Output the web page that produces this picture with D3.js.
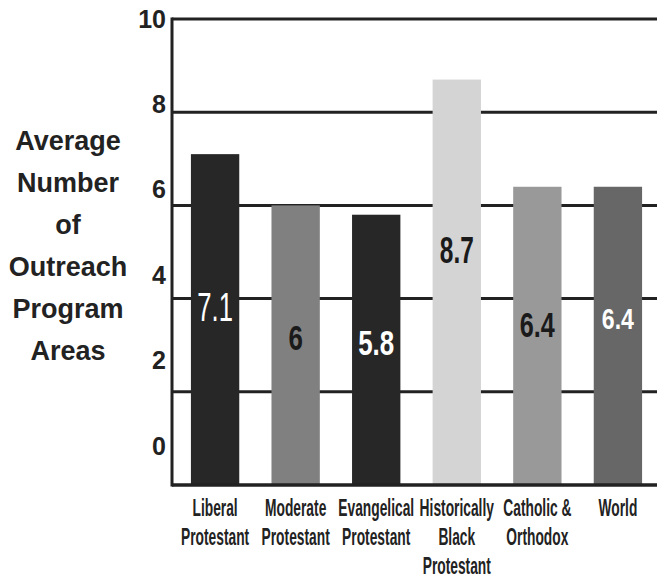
<!DOCTYPE html>
<html>
<head>
<meta charset="utf-8">
<script src="https://cdn.jsdelivr.net/npm/d3@7/dist/d3.min.js"></script>
<style>
  html, body { margin: 0; padding: 0; background: #fff; }
  svg { display: block; }
  text { font-family: "Liberation Sans", Arial, sans-serif; }
</style>
</head>
<body>
<svg id="chart" width="657" height="578"></svg>
<script>
// Outreach program areas by congregation family
const categories = [
  ["Liberal", "Protestant"],
  ["Moderate", "Protestant"],
  ["Evangelical", "Protestant"],
  ["Historically", "Black", "Protestant"],
  ["Catholic &", "Orthodox"],
  ["World"]
];
const values = [7.1, 6, 5.8, 8.7, 6.4, 6.4];
const yTicks = [0, 2, 4, 6, 8, 10];
const titleLines = ["Average", "Number", "of", "Outreach", "Program", "Areas"];

// Presentation settings
const barFill = ["#272727", "#808080", "#272727", "#d4d4d4", "#999999", "#676767"];
const labelFill = ["#ffffff", "#1a1a1a", "#ffffff", "#1a1a1a", "#1a1a1a", "#ffffff"];
const labelWeight = ["normal", "bold", "bold", "bold", "bold", "bold"];
const labelSize = [40, 36, 36, 36, 36, 30];
const labelSquash = [0.64, 0.72, 0.72, 0.68, 0.7, 0.77];
const labelLift = [0.54, 0.53, 0.53, 0.58, 0.54, 0.56];

const svg = d3.select("#chart");
const ink = "#222";

const keys = categories.map(c => c.join(" "));
const x = d3.scaleBand().domain(keys).range([174, 659]).paddingInner(0.4).paddingOuter(0.21);
const y = d3.scaleLinear().domain([0, 10]).range([485, 19]);
// tick numbers sit on their own, slightly tighter ladder
const yLabel = d3.scaleLinear().domain([0, 10]).range([446, 19]);

const axisX = 172, rightEdge = 657;

// gridlines
svg.append("g").selectAll("line")
  .data(yTicks.filter(t => t > 0))
  .join("line")
  .attr("x1", axisX).attr("x2", rightEdge)
  .attr("y1", d => y(d)).attr("y2", d => y(d))
  .attr("stroke", ink).attr("stroke-width", 3);

// bars
svg.append("g").selectAll("rect")
  .data(values)
  .join("rect")
  .attr("x", (d, i) => x(keys[i]))
  .attr("width", x.bandwidth())
  .attr("y", d => y(d))
  .attr("height", d => y(0) - y(d))
  .attr("fill", (d, i) => barFill[i]);

// baseline and vertical axis
svg.append("line")
  .attr("x1", axisX).attr("x2", rightEdge)
  .attr("y1", y(0)).attr("y2", y(0))
  .attr("stroke", ink).attr("stroke-width", 3.5);
svg.append("line")
  .attr("x1", axisX).attr("x2", axisX)
  .attr("y1", y(10) - 1.5).attr("y2", y(0) + 1.5)
  .attr("stroke", ink).attr("stroke-width", 3);

// tick numbers
const axis = d3.axisLeft(yLabel).tickValues(yTicks).tickSize(0).tickPadding(0);
const axisG = svg.append("g").attr("transform", "translate(166,0)").call(axis);
axisG.select(".domain").remove();
axisG.selectAll("text")
  .attr("fill", ink)
  .style("font-size", "25px")
  .style("font-weight", "bold")
  .style("font-family", "'Liberation Sans', Arial, sans-serif");

// value labels inside bars
svg.append("g").selectAll("text")
  .data(values)
  .join("text")
  .attr("transform", (d, i) => {
    const cx = x(keys[i]) + x.bandwidth() / 2;
    const cy = y(d * labelLift[i]) + labelSize[i] * 0.36;
    return `translate(${cx},${cy}) scale(${labelSquash[i]},1)`;
  })
  .attr("text-anchor", "middle")
  .attr("fill", (d, i) => labelFill[i])
  .style("font-size", (d, i) => labelSize[i] + "px")
  .style("font-weight", (d, i) => labelWeight[i])
  .text(d => d);

// category labels
const catG = svg.append("g").selectAll("g")
  .data(categories)
  .join("g")
  .attr("transform", (d, i) => `translate(${x(keys[i]) + x.bandwidth() / 2},516) scale(0.6,1)`);
catG.selectAll("text")
  .data(d => d)
  .join("text")
  .attr("y", (d, j) => j * 29)
  .attr("text-anchor", "middle")
  .attr("fill", ink)
  .style("font-size", "23px")
  .style("font-weight", "bold")
  .text(d => d);

// axis title
svg.append("g").selectAll("text")
  .data(titleLines)
  .join("text")
  .attr("x", 68)
  .attr("y", (d, i) => 150 + i * 42)
  .attr("text-anchor", "middle")
  .attr("fill", ink)
  .style("font-size", "27px")
  .style("font-weight", "bold")
  .text(d => d);
</script>
</body>
</html>
